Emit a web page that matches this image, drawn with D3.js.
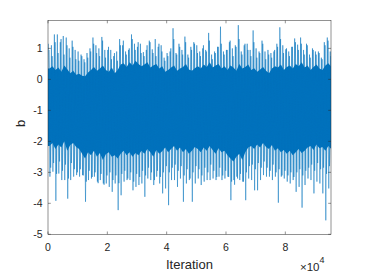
<!DOCTYPE html>
<html>
<head>
<meta charset="utf-8">
<script src="https://cdn.jsdelivr.net/npm/d3@7"></script>
<style>
  body { margin: 0; background: #fff; }
  svg { display: block; font-family: "Liberation Sans", Arial, sans-serif; }
</style>
</head>
<body>
<svg id="chart" width="366" height="274"></svg>
<script>
// trace of b, summarised per block of 1000 iterations
var blockSize = 1000;
var nIter = 95400;

// highest excursion in each block
var spikeHigh = [1.15,1.10,1.45,1.45,1.20,1.40,1.35,1.00,1.25,0.95,
                 0.90,0.80,0.65,0.85,1.00,1.35,1.10,1.00,1.37,0.95,
                 0.95,0.95,0.75,0.90,1.30,1.10,0.90,0.95,1.45,1.15,
                 1.05,1.15,0.88,0.95,1.25,0.97,1.30,1.05,1.10,0.70,
                 0.85,0.90,1.65,0.85,1.15,0.95,1.38,0.80,1.05,1.20,
                 1.10,0.90,1.00,0.95,1.50,0.80,0.90,1.05,1.70,0.90,
                 0.95,1.20,1.00,1.10,1.75,0.90,1.10,1.15,0.95,1.58,
                 1.00,0.90,1.25,0.90,0.95,0.85,0.90,1.15,1.68,1.10,
                 0.97,0.90,1.05,1.32,1.12,1.35,0.95,1.15,0.80,1.00,
                 0.90,0.90,0.70,1.20,1.35,0.90];

// second-highest excursion in each block
var spikeHigh2 = [0.95,0.75,1.20,0.85,1.30,0.80,1.10,0.70,1.05,0.65,
                  0.60,0.75,0.55,0.70,0.90,1.15,0.85,0.75,1.25,0.70,
                  1.05,0.65,0.85,0.60,1.10,1.25,0.80,1.00,1.30,0.95,
                  1.20,0.85,0.75,1.10,1.20,0.85,0.75,1.15,0.90,0.60,
                  0.75,1.00,1.30,0.80,1.05,0.80,1.20,0.70,0.95,1.15,
                  0.85,0.75,1.10,0.90,1.25,0.65,0.85,1.05,1.15,0.80,
                  0.95,1.25,0.75,1.05,1.30,0.80,1.15,0.95,0.75,1.20,
                  0.70,0.85,1.15,0.65,0.80,0.70,0.95,1.05,1.30,0.85,
                  1.00,0.75,1.05,1.20,0.95,1.15,0.80,1.10,0.70,0.95,
                  0.80,0.85,0.65,1.10,1.25,0.75];

// lowest excursion in each block
var spikeLow = [-3.14,-2.98,-3.92,-3.04,-3.25,-3.25,-3.85,-3.25,-3.14,-3.09,
                -3.14,-3.09,-3.95,-3.25,-3.20,-3.14,-3.30,-3.25,-3.36,-3.36,
                -3.47,-3.63,-3.36,-4.22,-3.74,-3.30,-3.25,-3.25,-3.58,-3.47,
                -3.41,-3.36,-3.79,-3.20,-3.25,-3.41,-3.14,-3.36,-3.68,-3.52,
                -4.06,-3.25,-3.25,-3.47,-3.20,-3.95,-3.36,-3.25,-3.95,-3.36,
                -3.20,-3.41,-3.30,-3.25,-3.25,-3.20,-3.25,-3.14,-3.25,-3.20,
                -3.14,-3.90,-3.25,-3.14,-3.25,-3.30,-3.90,-3.20,-3.25,-3.58,
                -3.58,-3.25,-3.09,-3.14,-3.14,-3.25,-3.14,-3.98,-3.14,-3.20,
                -3.30,-3.36,-3.25,-3.63,-3.47,-4.14,-3.41,-3.20,-3.25,-3.68,
                -3.30,-3.36,-3.68,-4.55,-3.52,-3.58];

// second-lowest excursion in each block
var spikeLow2 = [-2.85,-2.70,-3.05,-2.65,-2.95,-2.75,-3.20,-2.70,-2.90,-3.00,
                 -2.90,-3.10,-3.30,-2.95,-3.15,-3.00,-3.35,-3.05,-3.40,-3.10,
                 -3.00,-3.25,-3.10,-3.35,-3.05,-2.95,-3.20,-3.00,-3.30,-3.05,
                 -3.15,-2.95,-3.10,-2.85,-3.00,-3.25,-2.95,-3.15,-3.00,-2.80,
                 -3.00,-2.85,-2.75,-2.95,-2.80,-3.10,-2.90,-3.20,-3.00,-2.80,
                 -2.90,-3.10,-2.85,-3.00,-2.75,-2.95,-3.15,-2.85,-3.10,-2.95,
                 -3.15,-3.30,-3.40,-3.20,-3.05,-3.30,-3.00,-2.80,-2.75,-2.90,
                 -2.70,-2.85,-2.65,-2.85,-2.95,-2.75,-3.00,-2.90,-3.10,-2.95,
                 -3.10,-3.00,-3.15,-3.00,-2.90,-3.10,-2.95,-2.85,-2.75,-2.95,
                 -2.70,-2.90,-2.85,-3.05,-2.80,-2.90];

// upper / lower edge of the dense (solid) part of each block
var coreHigh = [0.35,0.42,0.30,0.38,0.25,0.45,0.33,0.20,0.28,0.15,
                0.18,0.12,0.10,0.22,0.30,0.40,0.28,0.35,0.45,0.30,
                0.25,0.38,0.20,0.30,0.48,0.52,0.40,0.55,0.45,0.60,
                0.50,0.42,0.48,0.55,0.38,0.45,0.50,0.35,0.42,0.25,
                0.30,0.38,0.45,0.28,0.35,0.40,0.50,0.32,0.28,0.36,
                0.42,0.35,0.48,0.40,0.55,0.38,0.45,0.50,0.35,0.42,
                0.30,0.45,0.38,0.28,0.50,0.35,0.40,0.48,0.30,0.36,
                0.25,0.32,0.40,0.28,0.20,0.35,0.42,0.38,0.48,0.30,
                0.40,0.45,0.35,0.50,0.42,0.55,0.38,0.45,0.30,0.40,
                0.48,0.35,0.30,0.45,0.52,0.40];

var coreLow = [-2.15,-2.05,-2.25,-2.10,-2.20,-2.00,-2.30,-2.12,-2.05,-2.18,
               -2.25,-2.40,-2.55,-2.35,-2.45,-2.30,-2.50,-2.38,-2.60,-2.42,
               -2.35,-2.50,-2.45,-2.55,-2.40,-2.30,-2.45,-2.35,-2.50,-2.38,
               -2.45,-2.30,-2.40,-2.25,-2.35,-2.50,-2.28,-2.40,-2.32,-2.20,
               -2.35,-2.25,-2.15,-2.30,-2.20,-2.35,-2.25,-2.40,-2.30,-2.18,
               -2.25,-2.35,-2.20,-2.30,-2.15,-2.28,-2.40,-2.22,-2.35,-2.30,
               -2.45,-2.55,-2.65,-2.50,-2.40,-2.60,-2.35,-2.20,-2.15,-2.25,
               -2.10,-2.20,-2.05,-2.18,-2.25,-2.12,-2.30,-2.22,-2.35,-2.28,
               -2.40,-2.30,-2.45,-2.35,-2.25,-2.38,-2.30,-2.20,-2.15,-2.28,
               -2.10,-2.22,-2.18,-2.30,-2.15,-2.25];

var xTicks = [0, 20000, 40000, 60000, 80000];
var yTicks = [-5, -4, -3, -2, -1, 0, 1];

var lineColor = '#0072BD';
var axisColor = '#262626';

var svg = d3.select('#chart');
var mLeft = 48, mRight = 331, mTop = 20.5, mBottom = 234.3;

var x = d3.scaleLinear().domain([0, nIter]).range([mLeft, mRight]);
var y = d3.scaleLinear().domain([-5, 1.9]).range([mBottom, mTop]);

svg.append('clipPath').attr('id', 'plotclip')
    .append('rect')
    .attr('x', mLeft).attr('y', mTop)
    .attr('width', mRight - mLeft).attr('height', mBottom - mTop);

var plot = svg.append('g').attr('clip-path', 'url(#plotclip)');

var blocks = d3.range(spikeHigh.length);

// dense core, one point per block centre (extended past both edges, clipped)
var core = d3.area()
    .x(function (i) { return x(i * blockSize + blockSize / 2); })
    .y0(function (i) { return y(coreLow[Math.max(0, Math.min(i, coreLow.length - 1))]); })
    .y1(function (i) { return y(coreHigh[Math.max(0, Math.min(i, coreHigh.length - 1))]); });

plot.append('path')
    .datum([-1].concat(blocks).concat([blocks.length]))
    .attr('d', core)
    .attr('fill', lineColor);

// trace zig-zags between the block extremes
function zigzag(hiArr, loArr, hiOff, loOff) {
    var pts = [];
    blocks.forEach(function (i) {
        pts.push([i * blockSize + hiOff, hiArr[i]]);
        pts.push([i * blockSize + loOff, loArr[i]]);
    });
    return pts;
}

var traceLine = d3.line()
    .x(function (d) { return x(d[0]); })
    .y(function (d) { return y(d[1]); });

[zigzag(spikeHigh, spikeLow, 150, 650),
 zigzag(spikeHigh2, spikeLow2, 400, 900)].forEach(function (pts) {
    plot.append('path')
        .datum(pts)
        .attr('d', traceLine)
        .attr('fill', 'none')
        .attr('stroke', lineColor)
        .attr('stroke-width', 0.5);
});

// box
svg.append('rect')
    .attr('x', mLeft).attr('y', mTop)
    .attr('width', mRight - mLeft).attr('height', mBottom - mTop)
    .attr('fill', 'none')
    .attr('stroke', axisColor)
    .attr('stroke-width', 0.5);

var tickLen = 2.8;

// ticks (inward, mirrored on top/right)
xTicks.forEach(function (t) {
    var xp = x(t);
    svg.append('line').attr('x1', xp).attr('x2', xp)
        .attr('y1', mBottom).attr('y2', mBottom - tickLen)
        .attr('stroke', axisColor).attr('stroke-width', 0.5);
    svg.append('line').attr('x1', xp).attr('x2', xp)
        .attr('y1', mTop).attr('y2', mTop + tickLen)
        .attr('stroke', axisColor).attr('stroke-width', 0.5);
    svg.append('text')
        .attr('x', xp).attr('y', mBottom + 16.5)
        .attr('text-anchor', 'middle')
        .attr('font-size', 10.5)
        .attr('fill', axisColor)
        .text(t / 1e4);
});

yTicks.forEach(function (t) {
    var yp = y(t);
    svg.append('line').attr('x1', mLeft).attr('x2', mLeft + tickLen)
        .attr('y1', yp).attr('y2', yp)
        .attr('stroke', axisColor).attr('stroke-width', 0.5);
    svg.append('line').attr('x1', mRight).attr('x2', mRight - tickLen)
        .attr('y1', yp).attr('y2', yp)
        .attr('stroke', axisColor).attr('stroke-width', 0.5);
    svg.append('text')
        .attr('x', mLeft - 5.5).attr('y', yp + 3.8)
        .attr('text-anchor', 'end')
        .attr('font-size', 10.5)
        .attr('fill', axisColor)
        .text(t);
});

// exponent label
var expo = svg.append('text')
    .attr('x', 300).attr('y', 271)
    .attr('font-size', 11.5)
    .attr('fill', axisColor);
expo.append('tspan').text('\u00d710');
expo.append('tspan').attr('dy', -8).attr('font-size', 9).text('4');

// axis labels
svg.append('text')
    .attr('x', (mLeft + mRight) / 2).attr('y', 268.5)
    .attr('text-anchor', 'middle')
    .attr('font-size', 13)
    .attr('fill', axisColor)
    .text('Iteration');

svg.append('text')
    .attr('transform', 'translate(25,' + ((mTop + mBottom) / 2 - 4) + ') rotate(-90)')
    .attr('text-anchor', 'middle')
    .attr('font-size', 13)
    .attr('fill', axisColor)
    .text('b');
</script>
</body>
</html>
